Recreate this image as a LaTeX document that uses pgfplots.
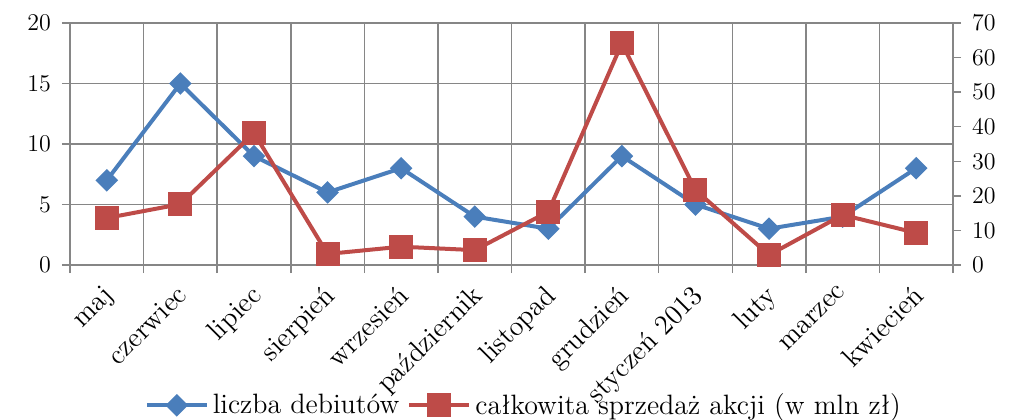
\documentclass[border=0pt]{standalone}
\usepackage{pgfplots}
\pgfplotsset{compat=1.18}
\definecolor{serBlue}{RGB}{74,126,187}
\definecolor{serRed}{RGB}{190,75,72}
\definecolor{gridGray}{RGB}{134,134,134}

\begin{document}
\begin{tikzpicture}
\useasboundingbox (-35pt,-77pt) rectangle (470.5pt,132.5pt);
\begin{axis}[
    scale only axis, width=441.5pt, height=121pt,
    xmin=0.5, xmax=12.5, ymin=0, ymax=20,
    xtick={0.5,1.5,...,12.5}, xticklabels={},
    ytick={0,5,10,15,20}, xtick pos=left, ytick pos=left,
    tick align=outside, major tick length=4pt,
    yticklabel style={font=\fontsize{13}{15}\selectfont, xshift=-2pt},
    grid=major, grid style={gridGray, line width=0.75pt},
    axis line style={gridGray, line width=0.75pt},
    tick style={gridGray, line width=0.75pt},
    extra x ticks={1,...,12},
    extra x tick labels={maj,czerwiec,lipiec,sierpień,wrzesień,październik,listopad,grudzień,styczeń 2013,luty,marzec,kwiecień},
    extra x tick style={major tick length=0pt, grid=none,
        xticklabel style={xshift=-2.5pt, yshift=-9pt, rotate=45, anchor=north east,
            inner sep=0pt, font=\fontsize{14}{16}\selectfont}},
    legend style={at={(0.515,-0.58)}, anchor=center, draw=none, fill=none,
        legend columns=2, font=\fontsize{14}{16}\selectfont,
        /tikz/every even column/.append style={column sep=2pt}},
    legend image code/.code={
        \draw[#1, mark repeat=2, mark phase=2] plot coordinates {(0pt,0pt) (15pt,0pt) (30pt,0pt)};},
]
\addplot[serBlue, line width=2pt, mark=square*, mark size=3pt, mark options={rotate=45}]
    coordinates {(1,7)(2,15)(3,9)(4,6)(5,8)(6,4)(7,3)(8,9)(9,5)(10,3)(11,4)(12,8)};
\addlegendentry{liczba debiutów}
\addlegendimage{serRed, line width=2pt, mark=square*, mark size=5pt}
\addlegendentry{całkowita sprzedaż akcji (w mln zł)}
\end{axis}
\begin{axis}[
    scale only axis, width=441.5pt, height=121pt,
    xmin=0.5, xmax=12.5, ymin=0, ymax=70,
    axis y line*=right, axis x line=none,
    ytick={0,10,...,70}, tick align=outside, major tick length=4pt,
    axis line style={gridGray, line width=0.75pt},
    tick style={gridGray, line width=0.75pt},
    yticklabel style={font=\fontsize{13}{15}\selectfont, xshift=2pt},
]
\addplot[serRed, line width=2pt, mark=square*, mark size=5pt]
    coordinates {(1,13.6)(2,17.6)(3,38.2)(4,3.2)(5,5.3)(6,4.3)(7,15.4)(8,64.1)(9,21.7)(10,2.9)(11,14.5)(12,9.3)};
\end{axis}
\end{tikzpicture}
\end{document}
